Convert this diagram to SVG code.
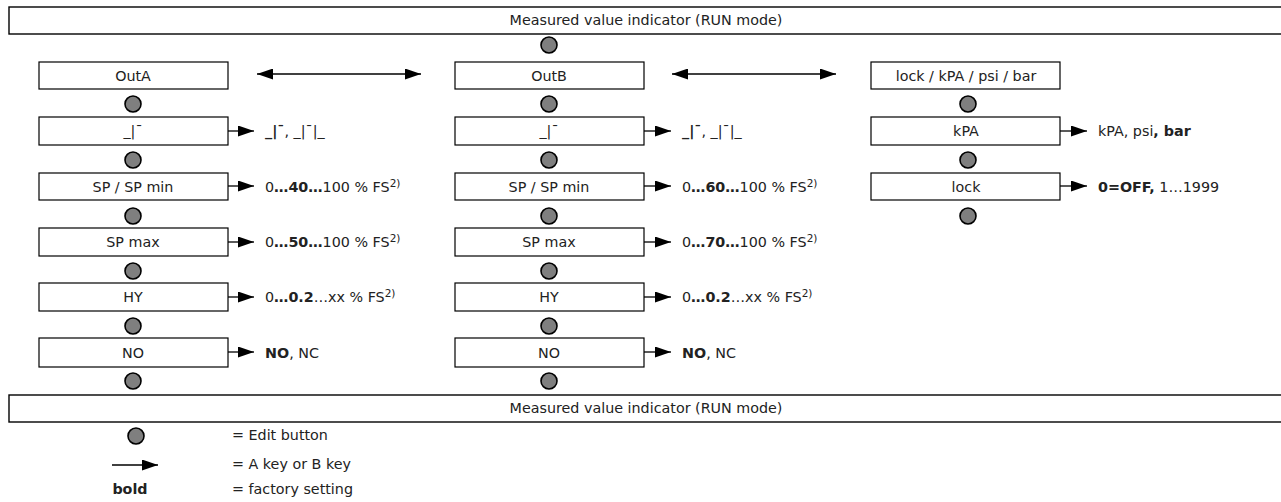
<svg xmlns="http://www.w3.org/2000/svg" width="1281" height="502" viewBox="0 0 1281 502">
<style>
text{font-family:"DejaVu Sans","Open Sans",sans-serif;font-size:14.3px;fill:#222}
.c{text-anchor:middle}
.b{font-weight:bold}
.box{fill:#fff;stroke:#000;stroke-width:1.2}
.ban{fill:#fff;stroke:#000;stroke-width:1.4}
.btn{fill:#7f7f7f;stroke:#000;stroke-width:1.6}
.ln{stroke:#000;stroke-width:1.3;fill:none}
.sup{font-size:10.5px}
</style>
<defs>
<marker id="ah" markerWidth="16" markerHeight="11" refX="16" refY="5.5" orient="auto" markerUnits="userSpaceOnUse"><path d="M0,0 L16,5.5 L0,11 Z" fill="#000"/></marker>
<marker id="ahs" markerWidth="16" markerHeight="11" refX="0" refY="5.5" orient="auto" markerUnits="userSpaceOnUse"><path d="M16,0 L0,5.5 L16,11 Z" fill="#000"/></marker>
</defs>

<g id="banner-top"><rect class="ban" x="9" y="7" width="1280" height="27"/><text class="c" x="646" y="25">Measured value indicator (RUN mode)</text></g>
<g id="banner-bottom"><rect class="ban" x="9" y="395" width="1280" height="27"/><text class="c" x="646" y="413">Measured value indicator (RUN mode)</text></g>

<g id="colA">
<g id="A1"><rect class="box" x="39" y="62" width="189" height="27"/><text class="c" x="133" y="80.5">OutA</text></g>
<g id="A2"><rect class="box" x="39" y="117" width="189" height="28"/><text class="c" x="133" y="136">_|¯</text></g>
<g id="A3"><rect class="box" x="39" y="173" width="189" height="27"/><text class="c" x="133" y="191.5">SP / SP min</text></g>
<g id="A4"><rect class="box" x="39" y="228" width="189" height="28"/><text class="c" x="133" y="247">SP max</text></g>
<g id="A5"><rect class="box" x="39" y="283" width="189" height="28"/><text class="c" x="133" y="302">HY</text></g>
<g id="A6"><rect class="box" x="39" y="338" width="189" height="29"/><text class="c" x="133" y="357.5">NO</text></g>
<circle class="btn" cx="133" cy="104" r="8"/><circle class="btn" cx="133" cy="160" r="8"/><circle class="btn" cx="133" cy="216" r="8"/><circle class="btn" cx="133" cy="271" r="8"/><circle class="btn" cx="133" cy="326" r="8"/><circle class="btn" cx="133" cy="381" r="8"/>
<text x="265" y="136"><tspan class="b">_|¯</tspan>, _|¯|_</text>
<text x="265" y="191.5">0<tspan class="b">…40…</tspan>100 % FS<tspan class="sup" dy="-5">2)</tspan></text>
<text x="265" y="247">0<tspan class="b">…50…</tspan>100 % FS<tspan class="sup" dy="-5">2)</tspan></text>
<text x="265" y="302">0<tspan class="b">…0.2</tspan>…xx % FS<tspan class="sup" dy="-5">2)</tspan></text>
<text x="265" y="357.5"><tspan class="b">NO</tspan>, NC</text>
</g>

<g id="colB">
<g id="B1"><rect class="box" x="455" y="62" width="189" height="27"/><text class="c" x="549" y="80.5">OutB</text></g>
<g id="B2"><rect class="box" x="455" y="117" width="189" height="28"/><text class="c" x="549" y="136">_|¯</text></g>
<g id="B3"><rect class="box" x="455" y="173" width="189" height="27"/><text class="c" x="549" y="191.5">SP / SP min</text></g>
<g id="B4"><rect class="box" x="455" y="228" width="189" height="28"/><text class="c" x="549" y="247">SP max</text></g>
<g id="B5"><rect class="box" x="455" y="283" width="189" height="28"/><text class="c" x="549" y="302">HY</text></g>
<g id="B6"><rect class="box" x="455" y="338" width="189" height="29"/><text class="c" x="549" y="357.5">NO</text></g>
<circle class="btn" cx="549" cy="45" r="8"/><circle class="btn" cx="549" cy="104" r="8"/><circle class="btn" cx="549" cy="160" r="8"/><circle class="btn" cx="549" cy="216" r="8"/><circle class="btn" cx="549" cy="271" r="8"/><circle class="btn" cx="549" cy="326" r="8"/><circle class="btn" cx="549" cy="381" r="8"/>
<text x="682" y="136"><tspan class="b">_|¯</tspan>, _|¯|_</text>
<text x="682" y="191.5">0<tspan class="b">…60…</tspan>100 % FS<tspan class="sup" dy="-5">2)</tspan></text>
<text x="682" y="247">0<tspan class="b">…70…</tspan>100 % FS<tspan class="sup" dy="-5">2)</tspan></text>
<text x="682" y="302">0<tspan class="b">…0.2</tspan>…xx % FS<tspan class="sup" dy="-5">2)</tspan></text>
<text x="682" y="357.5"><tspan class="b">NO</tspan>, NC</text>
</g>

<g id="colC">
<g id="C1"><rect class="box" x="871" y="62" width="189" height="27"/><text class="c" x="966" y="80.5">lock / kPA / psi / bar</text></g>
<g id="C2"><rect class="box" x="871" y="117" width="189" height="28"/><text class="c" x="966" y="136">kPA</text></g>
<g id="C3"><rect class="box" x="871" y="173" width="189" height="27"/><text class="c" x="966" y="191.5">lock</text></g>
<circle class="btn" cx="968" cy="104" r="8"/><circle class="btn" cx="968" cy="160" r="8"/><circle class="btn" cx="968" cy="216" r="8"/>
<text x="1098" y="136">kPA, psi<tspan class="b">, bar</tspan></text>
<text x="1098" y="191.5"><tspan class="b">0=OFF,</tspan> 1…1999</text>
</g>

<g id="connectors">
<line class="ln" x1="257" y1="74" x2="421" y2="74" marker-start="url(#ahs)" marker-end="url(#ah)"/>
<line class="ln" x1="672" y1="74" x2="836" y2="74" marker-start="url(#ahs)" marker-end="url(#ah)"/>
<line class="ln" x1="228" y1="131" x2="254" y2="131" marker-end="url(#ah)"/>
<line class="ln" x1="228" y1="186" x2="254" y2="186" marker-end="url(#ah)"/>
<line class="ln" x1="228" y1="242" x2="254" y2="242" marker-end="url(#ah)"/>
<line class="ln" x1="228" y1="297" x2="254" y2="297" marker-end="url(#ah)"/>
<line class="ln" x1="228" y1="352" x2="254" y2="352" marker-end="url(#ah)"/>
<line class="ln" x1="644" y1="131" x2="671" y2="131" marker-end="url(#ah)"/>
<line class="ln" x1="644" y1="186" x2="671" y2="186" marker-end="url(#ah)"/>
<line class="ln" x1="644" y1="242" x2="671" y2="242" marker-end="url(#ah)"/>
<line class="ln" x1="644" y1="297" x2="671" y2="297" marker-end="url(#ah)"/>
<line class="ln" x1="644" y1="352" x2="671" y2="352" marker-end="url(#ah)"/>
<line class="ln" x1="1060" y1="131" x2="1087" y2="131" marker-end="url(#ah)"/>
<line class="ln" x1="1060" y1="186" x2="1087" y2="186" marker-end="url(#ah)"/>
</g>

<g id="legend">
<circle class="btn" cx="136" cy="436" r="8"/>
<line class="ln" x1="112" y1="465" x2="158" y2="465" marker-end="url(#ah)"/>
<text class="c b" x="130" y="494">bold</text>
<text x="232" y="440">= Edit button</text>
<text x="232" y="469">= A key or B key</text>
<text x="232" y="494">= factory setting</text>
</g>
</svg>
